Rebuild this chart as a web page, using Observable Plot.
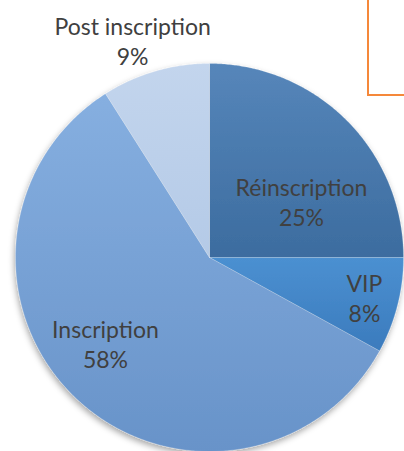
<!DOCTYPE html>
<html>
<head>
<meta charset="utf-8">
<script src="https://cdn.jsdelivr.net/npm/d3@7"></script>
<script src="https://cdn.jsdelivr.net/npm/@observablehq/plot@0.6"></script>
<style>
  html, body { margin: 0; padding: 0; background: #fff; overflow: hidden; }
  #wrap { position: relative; width: 404px; height: 451px; }
  #box { position: absolute; left: 367px; top: -4px; width: 60px; height: 98px;
         border-left: 2px solid #f5883a; border-bottom: 2px solid #f5883a; }
  svg { display: block; }
</style>
</head>
<body>
<div id="wrap"><div id="box"></div></div>
<script>
// Data (clockwise from 12 o'clock)
const categories = ["Réinscription", "VIP", "Inscription", "Post inscription"];
const shares = [25, 8, 58, 9];
const pctLabels = ["25%", "8%", "58%", "9%"];

// Styling / layout (not data)
const baseColors = ["#4a7aae", "#4386c7", "#7aa3d6", "#bccfea"];
const gradients = [
  ["#5686ba", "#3c6c9f"],
  ["#4b90d1", "#3b7bbd"],
  ["#86afe0", "#6893c9"],
  ["#c3d5ed", "#b4cae7"]
];
// label placement: angle nudge (deg) from slice mid-angle, radius fraction
const labelPlace = {
  "Réinscription": [13.5, 0.556],
  "VIP": [0.1, 0.825],
  "Inscription": [7.2, 0.696],
  "Post inscription": [-3.3, 1.187]
};

const data = categories.map((name, i) => ({name, value: shares[i], pct: pctLabels[i]}));
const arcs = d3.pie().sort(null).value(d => d.value)(data);

// polygon points for each slice
const pts = [];
for (const a of arcs) {
  const n = Math.max(2, Math.ceil((a.endAngle - a.startAngle) / (Math.PI / 360)));
  pts.push({name: a.data.name, x: 0, y: 0});
  for (let k = 0; k <= n; k++) {
    const t = a.startAngle + (a.endAngle - a.startAngle) * k / n;
    pts.push({name: a.data.name, x: Math.sin(t), y: Math.cos(t)});
  }
  pts.push({name: a.data.name, x: 0, y: 0});
}

const labels = arcs.map(a => {
  const [nudge, r] = labelPlace[a.data.name];
  const t = (a.startAngle + a.endAngle) / 2 + nudge * Math.PI / 180;
  return {name: a.data.name, text: a.data.name + "\n" + a.data.pct, x: r * Math.sin(t), y: r * Math.cos(t)};
});

const chart = Plot.plot({
  width: 404,
  height: 451,
  marginLeft: 15,
  marginRight: 1,
  marginTop: 63,
  marginBottom: 0,
  x: {domain: [-1, 1], axis: null},
  y: {domain: [-1, 1], axis: null},
  color: {type: "ordinal", domain: categories, range: baseColors},
  style: {fontFamily: "Lato, sans-serif"},
  marks: [
    Plot.line(pts, {x: "x", y: "y", z: "name", fill: "name", stroke: "#ffffff", strokeOpacity: 0.25, strokeWidth: 0.8}),
    Plot.text(labels, {x: "x", y: "y", text: "text", fontSize: 23, lineHeight: 1.3, fill: "#404040", textAnchor: "middle", lineAnchor: "middle"})
  ]
});

// gradient + shadow definitions (styling only)
const svg = d3.select(chart);
const defs = svg.insert("defs", ":first-child");
baseColors.forEach((c, i) => {
  const g = defs.append("linearGradient").attr("id", "grad" + i)
    .attr("x1", 0).attr("y1", 0).attr("x2", 0).attr("y2", 1);
  g.append("stop").attr("offset", "0%").attr("stop-color", gradients[i][0]);
  g.append("stop").attr("offset", "100%").attr("stop-color", gradients[i][1]);
});
const f = defs.append("filter").attr("id", "pieShadow")
  .attr("x", "-10%").attr("y", "-10%").attr("width", "120%").attr("height", "120%");
f.append("feDropShadow").attr("dx", -1).attr("dy", 3).attr("stdDeviation", 3)
  .attr("flood-color", "#000").attr("flood-opacity", 0.35);

const pieG = svg.select('g[aria-label="line"]');
pieG.attr("filter", "url(#pieShadow)");
pieG.selectAll("path").each(function () {
  const fill = (this.getAttribute("fill") || "").toLowerCase();
  const i = baseColors.indexOf(fill);
  if (i >= 0) this.setAttribute("fill", `url(#grad${i})`);
});

document.getElementById("wrap").prepend(chart);
</script>
</body>
</html>
